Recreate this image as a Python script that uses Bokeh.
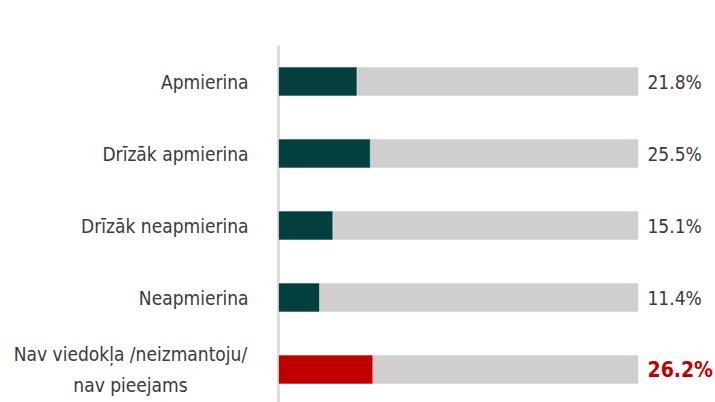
from bokeh.plotting import figure
from bokeh.models import Range1d, ColumnDataSource
from bokeh.core.properties import value
from bokeh.embed import file_html
from bokeh.resources import INLINE

categories = ["Apmierina", "Drīzāk apmierina", "Drīzāk neapmierina", "Neapmierina",
              "Nav viedokļa /neizmantoju/\nnav pieejams"]
values = [21.8, 25.5, 15.1, 11.4, 26.2]
value_labels = ["21.8%", "25.5%", "15.1%", "11.4%", "26.2%"]
bar_colors = ["#033f3d", "#033f3d", "#033f3d", "#033f3d", "#c00000"]
label_colors = ["#3a3a3a", "#3a3a3a", "#3a3a3a", "#3a3a3a", "#c00000"]
label_styles = ["normal", "normal", "normal", "normal", "bold"]
label_sizes = ["19px", "19px", "19px", "19px", "21px"]
full_scale = [100, 100, 100, 100, 100]

FONT = "DejaVu Sans Condensed"
W, H = 715, 402

idx = list(range(len(categories)))
src = ColumnDataSource(dict(y=idx, cat=categories, v=values, vl=value_labels,
                            bc=bar_colors, lc=label_colors, ls=label_styles,
                            fs=label_sizes, full=full_scale, zero=[0] * len(idx)))

p = figure(width=W, height=H, output_backend="svg", toolbar_location=None,
           x_range=Range1d(-77.22, 121.39), y_range=Range1d(4.458, -1.125),
           min_border=0, outline_line_color=None, background_fill_color="white",
           border_fill_color="white")
p.axis.visible = False
p.grid.visible = False

# axis line
p.segment(x0=[0], x1=[0], y0=[-0.5], y1=[len(categories) - 0.5],
          line_color="#dcdcdc", line_width=3)

# background bars
p.hbar(y="y", left="zero", right="full", height=0.4, source=src,
       fill_color="#d0cecf", line_color="white", line_alpha=0.5, line_width=1)
# value bars
p.hbar(y="y", left="zero", right="v", height=0.4, source=src,
       fill_color="bc", line_color="white", line_alpha=0.5, line_width=1)

# multi-line labels are centred per line; single-line ones right aligned
single = [i for i in idx if "\n" not in categories[i]]
multi = [i for i in idx if "\n" in categories[i]]
src_single = ColumnDataSource(dict(y=[idx[i] for i in single], cat=[categories[i] for i in single],
                                   x=[0] * len(single)))
src_multi = ColumnDataSource(dict(y=[idx[i] for i in multi], cat=[categories[i] for i in multi],
                                  x=[0] * len(multi)))
p.text(x="x", y="y", text="cat", source=src_single, x_offset=-30,
       text_align="right", text_baseline="middle", text_font=value(FONT),
       text_font_size="19px", text_color="#3a3a3a")
p.text(x="x", y="y", text="cat", source=src_multi, x_offset=-148,
       text_align="center", text_baseline="middle", text_font=value(FONT),
       text_font_size="19px", text_color="#3a3a3a", text_line_height=1.45)

# value labels
p.text(x="full", y="y", text="vl", source=src, x_offset=9,
       text_align="left", text_baseline="middle", text_font=value(FONT),
       text_font_size="fs", text_color="lc", text_font_style="ls")

open("out.html", "w").write(file_html(p, INLINE))
